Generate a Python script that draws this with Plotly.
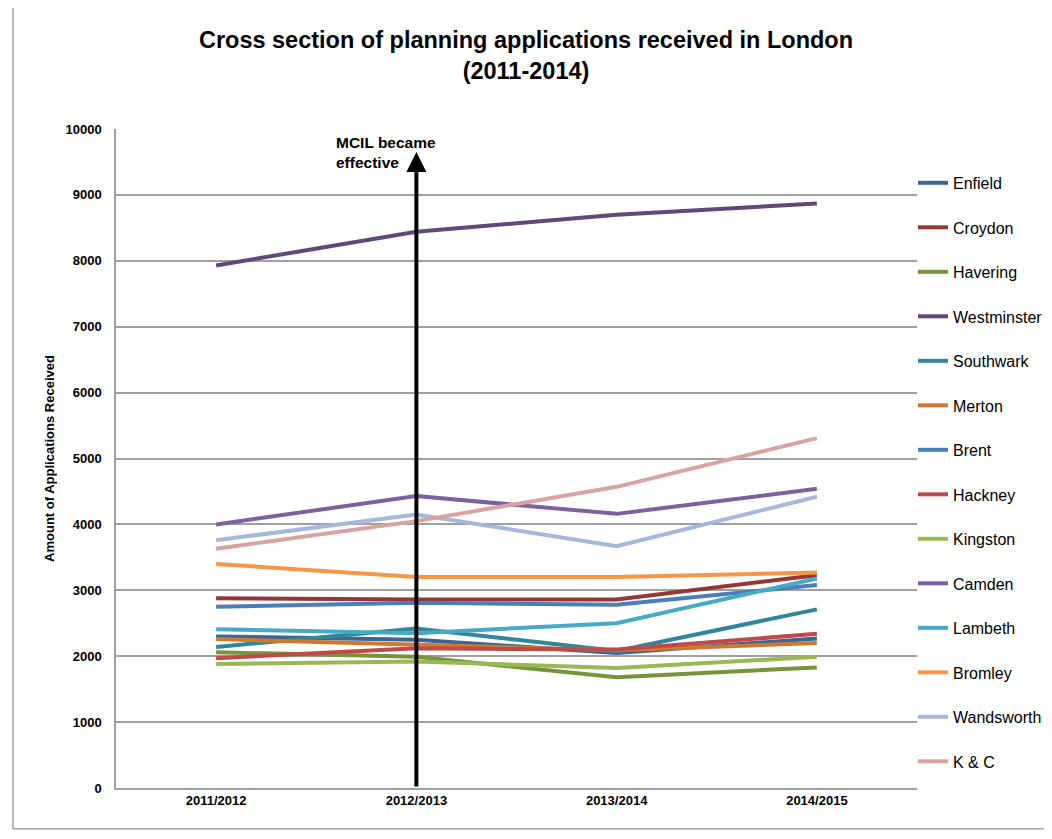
import plotly.graph_objects as go

categories = ["2011/2012", "2012/2013", "2013/2014", "2014/2015"]

enfield = [2300, 2250, 2050, 2270]
croydon = [2880, 2860, 2860, 3230]
havering = [2060, 1990, 1680, 1830]
westminster = [7930, 8440, 8700, 8870]
southwark = [2140, 2420, 2080, 2710]
merton = [2260, 2180, 2090, 2200]
brent = [2750, 2810, 2780, 3080]
hackney = [1970, 2120, 2100, 2340]
kingston = [1880, 1920, 1820, 1990]
camden = [4000, 4430, 4160, 4540]
lambeth = [2410, 2350, 2500, 3180]
bromley = [3400, 3200, 3200, 3270]
wandsworth = [3760, 4150, 3670, 4420]
kandc = [3630, 4050, 4570, 5310]

series_names = ["Enfield", "Croydon", "Havering", "Westminster", "Southwark", "Merton",
                "Brent", "Hackney", "Kingston", "Camden", "Lambeth", "Bromley",
                "Wandsworth", "K & C"]
series_values = [enfield, croydon, havering, westminster, southwark, merton,
                 brent, hackney, kingston, camden, lambeth, bromley, wandsworth, kandc]
colors = ["#3A6696", "#963735", "#77933C", "#5F497A", "#31859C", "#D0792E",
          "#4A7EBB", "#BE4B48", "#98B954", "#7D60A0", "#46AAC5", "#F79646",
          "#A5B8DA", "#D9A3A2"]

FONT = "Liberation Sans, Arial, sans-serif"

fig = go.Figure()
for name, vals, col in zip(series_names, series_values, colors):
    fig.add_trace(go.Scatter(
        x=categories, y=vals, name=name, mode="lines",
        line=dict(color=col, width=4),
        legendgroup=name,
    ))

fig.update_layout(
    width=1036, height=823,
    paper_bgcolor="white", plot_bgcolor="white",
    margin=dict(l=108, r=127, t=121, b=43, autoexpand=False),
    title=dict(
        text="<b>Cross section of planning applications received in London<br>(2011-2014)</b>",
        x=0.5, xanchor="center", y=0.9514, yanchor="top",
        font=dict(family=FONT, size=23.5, color="black"),
    ),
    font=dict(family=FONT, color="black"),
    showlegend=True,
    legend=dict(
        x=0.995, xanchor="left", y=0.944, yanchor="top",
        font=dict(family=FONT, size=16, color="black"),
        tracegroupgap=20.7,
        itemwidth=30,
        bgcolor="rgba(0,0,0,0)",
    ),
    xaxis=dict(
        type="category",
        showgrid=False,
        showline=True, linecolor="#A0A0A0", linewidth=1.5,
        ticks="", tickfont=dict(family=FONT, size=13, color="black"),
        tickprefix="<b>", ticksuffix="</b>",
        range=[-0.5, 3.5],
    ),
    yaxis=dict(
        range=[0, 10000], dtick=1000, tickformat="d",
        showgrid=True, gridcolor="#A0A0A0", gridwidth=1.5,
        showline=True, linecolor="#A0A0A0", linewidth=1.5,
        zeroline=False,
        ticks="", tickfont=dict(family=FONT, size=13, color="black"),
        tickprefix="<b>", ticksuffix="</b>",
        ticklabelstandoff=10,
        title=dict(text="<b>Amount of Applications Received</b>",
                   font=dict(family=FONT, size=13, color="black"), standoff=8),
    ),
)

# MCIL arrow
fig.add_annotation(
    x=categories[1], y=9650, xref="x", yref="y",
    ax=categories[1], ay=0, axref="x", ayref="y",
    showarrow=True, arrowhead=2, arrowsize=1, arrowwidth=4, arrowcolor="black",
    text="",
)
fig.add_annotation(
    x=0.59, y=9960, xref="x", yref="y",
    xanchor="left", yanchor="top", align="left",
    text="<b>MCIL became<br>effective</b>", showarrow=False,
    font=dict(family=FONT, size=15.5, color="black"),
)

# outer frame
fig.add_shape(type="rect", xref="paper", yref="paper",
              x0=-0.1286, x1=1.2, y0=-0.062, y1=1.185,
              line=dict(color="#A0A0A0", width=1.5), layer="below")

fig.write_html("out.html")
